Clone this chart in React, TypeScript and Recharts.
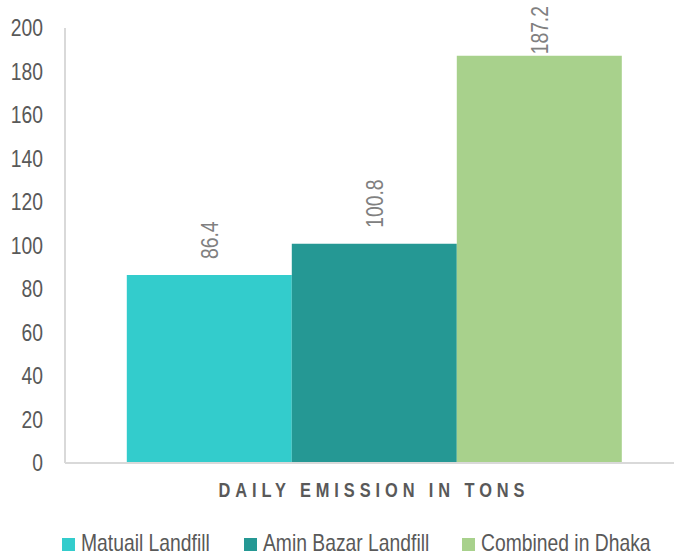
import React from 'react';
import { BarChart, Bar, XAxis, YAxis, LabelList } from 'recharts';

const CATEGORIES = ['DAILY EMISSION IN TONS'];
const SERIES_NAMES = ['Matuail Landfill', 'Amin Bazar Landfill', 'Combined in Dhaka'];
const SERIES_KEYS = ['matuail', 'aminBazar', 'combined'];
const SERIES_VALUES = [86.4, 100.8, 187.2];
const SERIES_COLORS = ['#33CCCC', '#259894', '#A8D18C'];
const Y_TICKS = [0, 20, 40, 60, 80, 100, 120, 140, 160, 180, 200];

// no narrow face is installed, so text is squeezed horizontally instead
const FONT = '"Liberation Sans", Arial, sans-serif';
const FONT_SIZE = 23;
const NARROW = 0.84;
const LEGEND_X = [62, 244, 462];

const data = CATEGORIES.map((name) => {
    const row: Record<string, string | number> = { name };
    SERIES_KEYS.forEach((key, i) => {
        row[key] = SERIES_VALUES[i];
    });
    return row;
});

// rough advance width of a numeric label
const labelLength = (s: string) =>
    s.split('').reduce((w, c) => w + (c === '.' ? 0.278 : 0.556), 0) * FONT_SIZE * NARROW;

// value label rotated to read bottom-up, kept inside the chart's top edge
const RotatedLabel = (props: any) => {
    const { x, y, width, value } = props;
    const cx = x + width / 2;
    const base = Math.max(y - 16, 6 + labelLength(String(value)));
    return (
        <g transform={`translate(${cx}, ${base}) rotate(-90) scale(${NARROW}, 1)`}>
            <text x={0} y={0} textAnchor="start" dy="0.36em" fill="#808080" fontSize={FONT_SIZE} fontFamily={FONT}>
                {value}
            </text>
        </g>
    );
};

const ValueTick = (props: any) => {
    const { x, y, payload } = props;
    return (
        <g transform={`translate(${x}, ${y}) scale(${NARROW}, 1)`}>
            <text x={0} y={0} textAnchor="end" dy="0.36em" fill="#595959" fontSize={FONT_SIZE} fontFamily={FONT}>
                {payload.value}
            </text>
        </g>
    );
};

const CategoryTick = (props: any) => {
    const { x, y, payload } = props;
    return (
        <g transform={`translate(${x}, ${y + 26}) scale(0.82, 1)`}>
            <text
                x={0}
                y={0}
                textAnchor="middle"
                fill="#595959"
                fontSize={20}
                fontWeight="bold"
                letterSpacing={6}
                fontFamily={FONT}
            >
                {payload.value}
            </text>
        </g>
    );
};

export default function App() {
    return (
        <div
            style={{
                position: 'absolute',
                left: 0,
                top: 0,
                width: 674,
                height: 556,
                overflow: 'hidden',
                background: '#fff',
            }}
        >
            <BarChart
                width={683}
                height={556}
                data={data}
                margin={{ top: 28, right: 0, left: 0, bottom: 0 }}
                barCategoryGap="10%"
                barGap={0}
            >
                <XAxis
                    dataKey="name"
                    height={93}
                    tickLine={false}
                    axisLine={{ stroke: '#d9d9d9', strokeWidth: 2 }}
                    tick={<CategoryTick />}
                />
                <YAxis
                    width={65}
                    domain={[0, 200]}
                    ticks={Y_TICKS}
                    interval={0}
                    tickLine={false}
                    tickMargin={16}
                    axisLine={{ stroke: '#d9d9d9', strokeWidth: 2 }}
                    tick={<ValueTick />}
                />
                {SERIES_KEYS.map((key, i) => (
                    <Bar
                        key={key}
                        dataKey={key}
                        name={SERIES_NAMES[i]}
                        fill={SERIES_COLORS[i]}
                        isAnimationActive={false}
                    >
                        <LabelList dataKey={key} content={<RotatedLabel />} />
                    </Bar>
                ))}
            </BarChart>
            <svg width={674} height={40} style={{ position: 'absolute', left: 0, top: 516 }}>
                {SERIES_NAMES.map((name, i) => (
                    <g key={name}>
                        <rect x={LEGEND_X[i]} y={22} width={13} height={13} fill={SERIES_COLORS[i]} />
                        <g transform={`translate(${LEGEND_X[i] + 19}, 35) scale(${NARROW}, 1)`}>
                            <text x={0} y={0} fill="#595959" fontSize={FONT_SIZE} fontFamily={FONT}>
                                {name}
                            </text>
                        </g>
                    </g>
                ))}
            </svg>
        </div>
    );
}
